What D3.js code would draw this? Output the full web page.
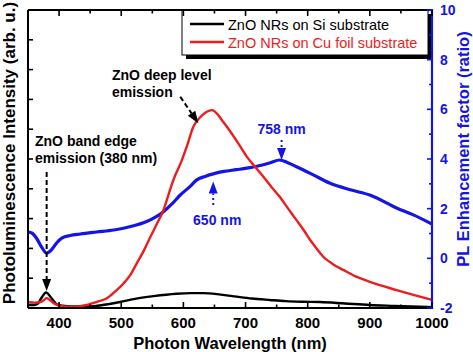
<!DOCTYPE html>
<html>
<head>
<meta charset="utf-8">
<script src="https://cdn.jsdelivr.net/npm/d3@7"></script>
<style>
  body { margin: 0; background: #fff; }
  svg { display: block; font-family: "Liberation Sans", Arial, sans-serif; }
</style>
</head>
<body>
<div id="chart"></div>
<script>
// data
const blackNm  = [350,360,366,372,379,386,392,396,405,430,450,470,498,520,552,589,611,632,660,686,710,739,765,793,820,860,900,940,980,1000];
const blackVal = [0.1,0.1,0.15,0.35,0.52,0.38,0.22,0.12,0.08,0.05,0.05,0.1,0.2,0.3,0.4,0.48,0.5,0.5,0.45,0.38,0.32,0.27,0.23,0.21,0.2,0.15,0.1,0.07,0.04,0.03];

const redNm  = [350,360,370,376,380,385,392,400,415,430,444,460,477,490,504,515,525,537,547,558,568,576,584,590,597,606,616,627,637,646,655,662,670,686,702,716,729,742,755,768,782,794,804,815,825,840,857,878,900,920,943,970,1000];
const redVal = [0.2,0.18,0.2,0.27,0.33,0.27,0.15,0.08,0.04,0.05,0.1,0.2,0.33,0.55,0.83,1.12,1.5,1.95,2.39,2.85,3.29,3.8,4.3,4.6,4.93,5.45,6.08,6.4,6.58,6.64,6.5,6.3,6.08,5.6,5.08,4.72,4.4,4.05,3.73,3.35,2.95,2.6,2.28,1.98,1.72,1.48,1.28,1.05,0.88,0.74,0.6,0.44,0.27];

// enhancement factor (right axis)
const blueNm  = [350,356,364,372,380,388,396,405,418,434,460,488,515,541,555,568,582,595,611,621,635,648,665,685,702,720,740,755,768,782,809,836,870,900,943,970,1000];
const blueVal = [1.06,1.02,0.8,0.45,0.21,0.35,0.62,0.82,0.92,0.98,1.06,1.14,1.28,1.48,1.66,1.88,2.2,2.55,2.9,3.15,3.3,3.4,3.5,3.57,3.63,3.72,3.85,3.96,3.85,3.69,3.36,3.02,2.75,2.55,2.03,1.75,1.38];

const xTicks = [400,500,600,700,800,900,1000];
const xMinor = [350,450,550,650,750,850,950];
const leftTicks = [1,2,3,4,5,6,7,8,9];
const rightTicks = [-2,0,2,4,6,8,10];
const rightMinor = [-1,1,3,5,7,9];

const seriesNames = ["ZnO NRs on Si substrate", "ZnO NRs on Cu foil substrate"];

const W = 473, H = 352;
const margin = { top: 10, right: 41, bottom: 44, left: 28 };
const BLACK = "#000", RED = "#ee1c1c", BLUE = "#1414e6";

const svg = d3.select("#chart").append("svg")
  .attr("width", W).attr("height", H);

const x = d3.scaleLinear().domain([350, 1000]).range([margin.left, W - margin.right]);
const yL = d3.scaleLinear().domain([0, 10]).range([H - margin.bottom, margin.top]);
const yR = d3.scaleLinear().domain([-2, 10]).range([H - margin.bottom, margin.top]);

const x0 = x.range()[0], x1 = x.range()[1], yb = yL.range()[0], yt = yL.range()[1];

// curves
const lineL = d3.line().x(d => x(d[0])).y(d => yL(d[1])).curve(d3.curveMonotoneX);
const lineR = d3.line().x(d => x(d[0])).y(d => yR(d[1])).curve(d3.curveMonotoneX);

svg.append("path").datum(d3.zip(blueNm, blueVal))
  .attr("d", lineR).attr("fill", "none").attr("stroke", BLUE).attr("stroke-width", 3.2);
svg.append("path").datum(d3.zip(blackNm, blackVal))
  .attr("d", lineL).attr("fill", "none").attr("stroke", BLACK).attr("stroke-width", 2.4);
svg.append("path").datum(d3.zip(redNm, redVal))
  .attr("d", lineL).attr("fill", "none").attr("stroke", RED).attr("stroke-width", 2.4);

// legend
const lg = svg.append("g");
lg.append("rect").attr("x", 186).attr("y", 14).attr("width", 246).attr("height", 45).attr("fill", BLACK);
lg.append("rect").attr("x", 182).attr("y", 10).attr("width", 246).attr("height", 45)
  .attr("fill", "#fff").attr("stroke", BLACK).attr("stroke-width", 1);
[BLACK, RED].forEach((c, i) => {
  const yy = 24 + i * 18;
  lg.append("line").attr("x1", 190).attr("x2", 224).attr("y1", yy).attr("y2", yy)
    .attr("stroke", c).attr("stroke-width", 2.4);
  lg.append("text").attr("x", 228).attr("y", yy + 5.5).attr("font-size", 14.5)
    .attr("fill", c).text(seriesNames[i]);
});

// frame
svg.append("line").attr("x1", x0).attr("x2", x1).attr("y1", yb).attr("y2", yb).attr("stroke", BLACK).attr("stroke-width", 2);
svg.append("line").attr("x1", x0).attr("x2", x1).attr("y1", yt).attr("y2", yt).attr("stroke", BLACK).attr("stroke-width", 2);
svg.append("line").attr("x1", x0).attr("x2", x0).attr("y1", yt).attr("y2", yb).attr("stroke", BLACK).attr("stroke-width", 2);
svg.append("line").attr("x1", x1).attr("x2", x1).attr("y1", yt - 1).attr("y2", yb + 1).attr("stroke", BLUE).attr("stroke-width", 2.2);

// x ticks bottom and top
xTicks.concat(xMinor).forEach(v => {
  const len = xTicks.includes(v) ? 6 : 3.5;
  svg.append("line").attr("x1", x(v)).attr("x2", x(v)).attr("y1", yb).attr("y2", yb - len).attr("stroke", BLACK).attr("stroke-width", 1.6);
  svg.append("line").attr("x1", x(v)).attr("x2", x(v)).attr("y1", yt).attr("y2", yt + len).attr("stroke", BLACK).attr("stroke-width", 1.6);
});
svg.append("g").selectAll("text").data(xTicks).join("text")
  .attr("x", d => x(d)).attr("y", yb + 20).attr("text-anchor", "middle")
  .attr("font-size", 15).attr("font-weight", "bold").text(d => d);

// left ticks (no labels)
leftTicks.forEach(v => {
  svg.append("line").attr("x1", x0).attr("x2", x0 + 5).attr("y1", yL(v)).attr("y2", yL(v)).attr("stroke", BLACK).attr("stroke-width", 1.6);
});

// right ticks
rightTicks.concat(rightMinor).forEach(v => {
  const len = rightTicks.includes(v) ? 5 : 3;
  svg.append("line").attr("x1", x1).attr("x2", x1 - len).attr("y1", yR(v)).attr("y2", yR(v)).attr("stroke", BLUE).attr("stroke-width", 1.6);
});
svg.append("g").selectAll("text").data(rightTicks).join("text")
  .attr("x", x1 + 8).attr("y", d => yR(d) + 5).attr("fill", BLUE)
  .attr("font-size", 14).attr("font-weight", "bold").text(d => d);

// axis titles
svg.append("text").attr("x", (x0 + x1) / 2).attr("y", 349).attr("text-anchor", "middle")
  .attr("font-size", 16.5).attr("font-weight", "bold").text("Photon Wavelength (nm)");
svg.append("text").attr("transform", "translate(15,153) rotate(-90)").attr("text-anchor", "middle")
  .attr("font-size", 17).attr("font-weight", "bold").text("Photoluminescence Intensity (arb. u.)");
svg.append("text").attr("transform", "translate(469,149) rotate(-90)").attr("text-anchor", "middle")
  .attr("font-size", 16.5).attr("font-weight", "bold").attr("fill", BLUE).text("PL Enhancement factor (ratio)");

// annotations
function arrow(xa, ya, xb, yb2, color, dash) {
  const ang = Math.atan2(yb2 - ya, xb - xa);
  const hl = 12, hw = 4.5;
  const bx = xb - hl * Math.cos(ang), by = yb2 - hl * Math.sin(ang);
  svg.append("line").attr("x1", xa).attr("y1", ya).attr("x2", bx).attr("y2", by)
    .attr("stroke", color).attr("stroke-width", 2).attr("stroke-dasharray", dash);
  const px = -Math.sin(ang) * hw, py = Math.cos(ang) * hw;
  svg.append("polygon")
    .attr("points", [[xb, yb2], [bx + px, by + py], [bx - px, by - py]].map(p => p.join(",")).join(" "))
    .attr("fill", color);
}

const bandEdgeText = ["ZnO band edge", "emission (380 nm)"];
const deepLevelText = ["ZnO deep level", "emission"];

bandEdgeText.forEach((t, i) => svg.append("text").attr("x", 35).attr("y", 146 + i * 17)
  .attr("font-size", 14).attr("font-weight", "bold").text(t));
deepLevelText.forEach((t, i) => svg.append("text").attr("x", 112).attr("y", 80 + i * 17)
  .attr("font-size", 14).attr("font-weight", "bold").text(t));

arrow(x(380), yL(4.56), x(380), yL(0.57), BLACK, "5,3");
arrow(x(595), yL(7.09), x(624), yL(6.2), BLACK, "5,3");

arrow(x(758), yR(4.77), x(758), yR(3.96), BLUE, "2,3");
arrow(x(648), yR(2.15), x(648), yR(3.09), BLUE, "2,3");

svg.append("text").attr("x", x(758)).attr("y", 134).attr("text-anchor", "middle")
  .attr("font-size", 14).attr("font-weight", "bold").attr("fill", BLUE).text("758 nm");
svg.append("text").attr("x", x(648) + 4).attr("y", 225).attr("text-anchor", "middle")
  .attr("font-size", 14).attr("font-weight", "bold").attr("fill", BLUE).text("650 nm");
</script>
</body>
</html>
